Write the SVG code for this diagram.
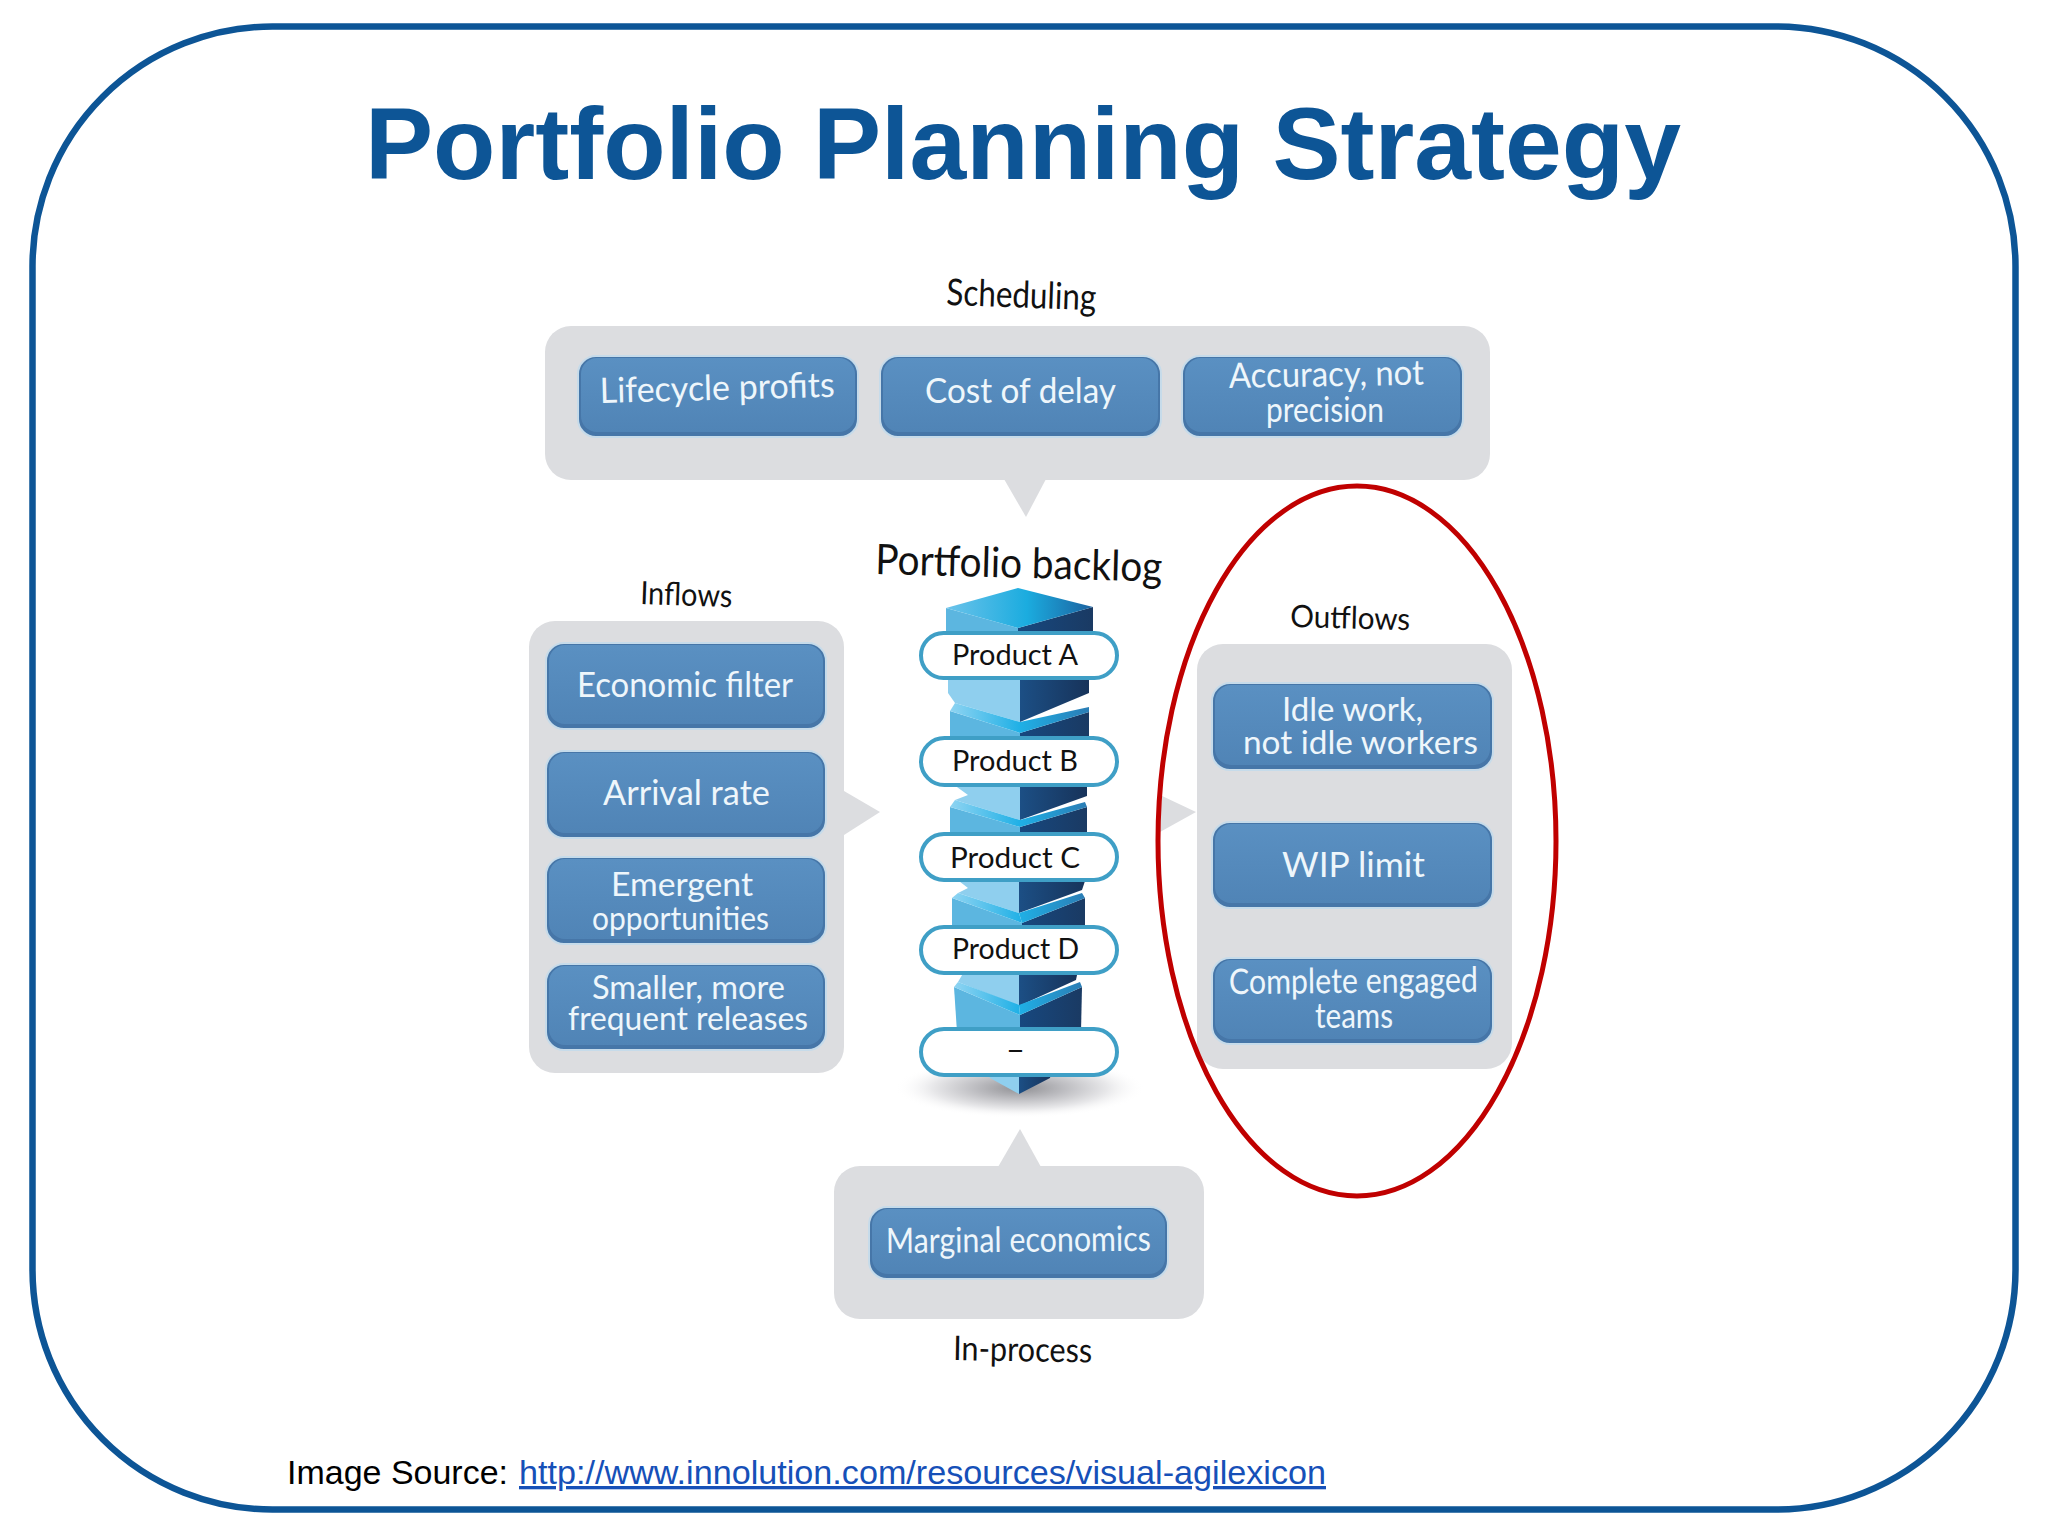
<svg xmlns="http://www.w3.org/2000/svg" width="2048" height="1536" viewBox="0 0 2048 1536">
<style>
.frame{fill:#fff;stroke:#0d5596;stroke-width:6.5}
.title{font-family:"Liberation Sans",Arial,sans-serif;font-weight:700;font-size:102px;fill:#0d5596}
.src{font-family:"Liberation Sans",Arial,sans-serif;font-size:33px;fill:#000}
.link{fill:#1650b8}
.panel{fill:#dcdde0}
.btnh{fill:#4676a8;stroke:#c6dbea;stroke-width:2}
.btn{fill:url(#btnG)}
.t{font-family:Lato,"Open Sans",sans-serif;font-size:35px;fill:#eef6fb}
.t2{font-size:32px}
.h{font-family:Lato,"Open Sans",sans-serif;font-size:34px;fill:#111}
.pt{font-family:Lato,"Open Sans",sans-serif;font-size:28px;fill:#111}
.pill{fill:#fff;stroke:#3f9fc6;stroke-width:4}
.lf{fill:#5cb6e0}
.rf{fill:url(#darkG)}
.ll{fill:#8fcfee}
.rl{fill:url(#darkL)}
.ca{fill:url(#armL)}
.cb{fill:url(#armR)}
.ring{fill:none;stroke:#c00000;stroke-width:5}
</style>
<defs>
<linearGradient id="btnG" x1="0" y1="0" x2="0" y2="1"><stop offset="0" stop-color="#5a90c2"/><stop offset="1" stop-color="#5084b6"/></linearGradient>
<linearGradient id="darkG" x1="0" y1="0" x2="1" y2="0"><stop offset="0" stop-color="#17487f"/><stop offset="1" stop-color="#1a3a63"/></linearGradient>
<linearGradient id="darkL" x1="0" y1="0" x2="1" y2="0"><stop offset="0" stop-color="#1c4f85"/><stop offset="1" stop-color="#17335a"/></linearGradient>
<linearGradient id="armL" x1="0" y1="0" x2="1" y2="0"><stop offset="0" stop-color="#8fd4f2"/><stop offset="1" stop-color="#1fb0e6"/></linearGradient>
<linearGradient id="armR" x1="0" y1="0" x2="1" y2="0"><stop offset="0" stop-color="#1fb0e6"/><stop offset="1" stop-color="#2b7db5"/></linearGradient>
<linearGradient id="topG" x1="0" y1="0" x2="1" y2="0"><stop offset="0" stop-color="#6cc3ea"/><stop offset="0.55" stop-color="#1bacdf"/><stop offset="1" stop-color="#1c62a0"/></linearGradient>
<radialGradient id="shadowG"><stop offset="0" stop-color="#909094"/><stop offset="0.35" stop-color="#bcbcc0"/><stop offset="0.7" stop-color="#e8e8ea"/><stop offset="1" stop-color="#fff" stop-opacity="0"/></radialGradient>
</defs>

<rect width="2048" height="1536" fill="#fff"/>
<rect id="frame" class="frame" x="32.5" y="26.5" width="1983" height="1483" rx="240" ry="240"/>
<text id="title" class="title" x="365" y="179" textLength="1316" lengthAdjust="spacingAndGlyphs">Portfolio Planning Strategy</text>

<g id="scheduling">
<rect class="panel" x="545" y="326" width="945" height="154" rx="26"/>
<text class="h" x="946" y="305" textLength="150" lengthAdjust="spacingAndGlyphs" transform="rotate(2 946 305)" style="font-size:37px">Scheduling</text>
<g id="lifecycle"><rect class="btnh" x="578" y="356" width="280" height="81" rx="18"/><rect class="btn" x="581" y="358" width="274" height="74" rx="16"/>
<text class="t" x="600" y="403" textLength="235" lengthAdjust="spacingAndGlyphs" transform="rotate(-1.5 600 403)">Lifecycle profits</text></g>
<g id="cost"><rect class="btnh" x="880" y="356" width="281" height="81" rx="18"/><rect class="btn" x="883" y="358" width="275" height="74" rx="16"/>
<text class="t" x="925" y="403" textLength="191" lengthAdjust="spacingAndGlyphs">Cost of delay</text></g>
<g id="accuracy"><rect class="btnh" x="1182" y="356" width="281" height="81" rx="18"/><rect class="btn" x="1185" y="358" width="275" height="74" rx="16"/>
<text class="t" x="1229" y="388" textLength="195" lengthAdjust="spacingAndGlyphs" transform="rotate(-1 1229 388)">Accuracy, not</text>
<text class="t" x="1266" y="422" textLength="118" lengthAdjust="spacingAndGlyphs">precision</text></g>
</g>

<g id="inflows">
<rect class="panel" x="529" y="621" width="315" height="452" rx="26"/>
<text class="h" x="640" y="604" textLength="92" lengthAdjust="spacingAndGlyphs" style="font-size:32px" transform="rotate(2 640 604)">Inflows</text>
<g id="economic"><rect class="btnh" x="546" y="643" width="280" height="86" rx="18"/><rect class="btn" x="549" y="645" width="274" height="79" rx="16"/>
<text class="t" x="577" y="697" textLength="216" lengthAdjust="spacingAndGlyphs">Economic filter</text></g>
<g id="arrival"><rect class="btnh" x="546" y="751" width="280" height="87" rx="18"/><rect class="btn" x="549" y="753" width="274" height="80" rx="16"/>
<text class="t" x="603" y="805" textLength="167" lengthAdjust="spacingAndGlyphs">Arrival rate</text></g>
<g id="emergent"><rect class="btnh" x="546" y="857" width="280" height="87" rx="18"/><rect class="btn" x="549" y="859" width="274" height="80" rx="16"/>
<text class="t t2" x="611" y="896" textLength="142" lengthAdjust="spacingAndGlyphs">Emergent</text>
<text class="t t2" x="592" y="930" textLength="177" lengthAdjust="spacingAndGlyphs">opportunities</text></g>
<g id="smaller"><rect class="btnh" x="546" y="964" width="280" height="86" rx="18"/><rect class="btn" x="549" y="966" width="274" height="79" rx="16"/>
<text class="t t2" x="592" y="999" textLength="193" lengthAdjust="spacingAndGlyphs">Smaller, more</text>
<text class="t t2" x="568" y="1030" textLength="240" lengthAdjust="spacingAndGlyphs">frequent releases</text></g>
</g>

<g id="backlog">
<ellipse cx="1020" cy="1088" rx="125" ry="30" fill="url(#shadowG)"/>
<polygon class="rl" points="1019,1070 1052,1070 1050,1078 1019,1094"/>
<polygon class="ll" points="985,1070 1019,1070 1019,1094 990,1078"/>
<!-- block 5 -->
<polygon class="lf" points="954,987 1020,1015 1020,1032 957,1032"/>
<polygon class="rf" points="1020,1015 1082,987 1081,1032 1020,1032"/>
<polygon class="ll" points="965,970 1019,970 1019,1006 958,982"/>
<polygon class="rl" points="1019,970 1078,970 1076,980 1019,1006"/>
<polygon class="ca" points="958,982 1019,1005 1020,1015 954,987"/>
<polygon class="cb" points="1019,1005 1080,982 1082,987 1020,1015"/>
<!-- block 4 -->
<polygon class="lf" points="952,898 1022,923 1022,932 952,932"/>
<polygon class="rf" points="1022,923 1085,898 1085,932 1022,932"/>
<polygon class="ll" points="955,878 1019,878 1019,913 958,893 968,888"/>
<polygon class="rl" points="1019,878 1086,878 1082,890 1019,913"/>
<polygon class="ca" points="958,893 1019,913 1022,923 952,898"/>
<polygon class="cb" points="1019,913 1082,893 1085,898 1022,923"/>
<!-- block 3 -->
<polygon class="lf" points="950,807 1020,827 1020,838 950,838"/>
<polygon class="rf" points="1020,827 1087,807 1087,838 1020,838"/>
<polygon class="ll" points="950,782 1020,782 1020,820 955,800 968,795"/>
<polygon class="rl" points="1020,782 1087,782 1087,796 1020,820"/>
<polygon class="ca" points="955,800 1020,820 1020,827 950,807"/>
<polygon class="cb" points="1020,820 1085,802 1087,807 1020,827"/>
<!-- block 2 -->
<polygon class="lf" points="950,711 1020,733 1020,742 950,742"/>
<polygon class="rf" points="1020,733 1089,712 1089,742 1020,742"/>
<polygon class="ll" points="948,675 1020,675 1020,722 955,703 948,693"/>
<polygon class="rl" points="1020,675 1089,675 1089,693 1020,722"/>
<polygon class="ca" points="955,703 1020,722 1020,733 950,711"/>
<polygon class="cb" points="1020,722 1089,707 1089,712 1020,733"/>
<!-- block 1 -->
<polygon class="lf" points="946,608 1018,628 1018,640 946,640"/>
<polygon class="rf" points="1018,628 1093,607 1093,640 1018,640"/>
<polygon fill="url(#topG)" points="946,608 1018,588 1093,607 1018,628"/>
<g id="productA"><rect class="pill" x="921" y="633" width="196" height="45" rx="22.5"/><text class="pt" x="952" y="665" textLength="126" lengthAdjust="spacingAndGlyphs">Product A</text></g>
<g id="productB"><rect class="pill" x="921" y="738" width="196" height="47" rx="23.5"/><text class="pt" x="952" y="771" textLength="126" lengthAdjust="spacingAndGlyphs">Product B</text></g>
<g id="productC"><rect class="pill" x="921" y="834" width="196" height="46" rx="23"/><text class="pt" x="950" y="868" textLength="130" lengthAdjust="spacingAndGlyphs">Product C</text></g>
<g id="productD"><rect class="pill" x="921" y="927" width="196" height="46" rx="23"/><text class="pt" x="952" y="959" textLength="127" lengthAdjust="spacingAndGlyphs">Product D</text></g>
<g id="productE"><rect class="pill" x="921" y="1029" width="196" height="46" rx="23"/><text class="pt" x="1006" y="1060" textLength="19" lengthAdjust="spacingAndGlyphs">–</text></g>
<text class="h" x="875" y="574" textLength="287" lengthAdjust="spacingAndGlyphs" style="font-size:42px" transform="rotate(1.5 875 574)">Portfolio backlog</text>
</g>

<g id="outflows">
<rect class="panel" x="1197" y="644" width="315" height="425" rx="26"/>
<text class="h" x="1290" y="627" textLength="120" lengthAdjust="spacingAndGlyphs" style="font-size:31px" transform="rotate(1.5 1290 627)">Outflows</text>
<g id="idle"><rect class="btnh" x="1212" y="683" width="281" height="87" rx="18"/><rect class="btn" x="1215" y="685" width="275" height="80" rx="16"/>
<text class="t t2" x="1282" y="721" textLength="141" lengthAdjust="spacingAndGlyphs">Idle work,</text>
<text class="t t2" x="1243" y="754" textLength="235" lengthAdjust="spacingAndGlyphs">not idle workers</text></g>
<g id="wip"><rect class="btnh" x="1212" y="822" width="281" height="86" rx="18"/><rect class="btn" x="1215" y="824" width="275" height="79" rx="16"/>
<text class="t" x="1282" y="877" textLength="143" lengthAdjust="spacingAndGlyphs">WIP limit</text></g>
<g id="complete"><rect class="btnh" x="1212" y="958" width="281" height="86" rx="18"/><rect class="btn" x="1215" y="960" width="275" height="79" rx="16"/>
<text class="t" x="1229" y="994" textLength="249" lengthAdjust="spacingAndGlyphs" transform="rotate(-0.5 1229 994)">Complete engaged</text>
<text class="t" x="1315" y="1028" textLength="78" lengthAdjust="spacingAndGlyphs">teams</text></g>
</g>

<g id="inprocess">
<rect class="panel" x="834" y="1166" width="370" height="153" rx="26"/>
<g id="marginal"><rect class="btnh" x="869" y="1207" width="299" height="72" rx="18"/><rect class="btn" x="872" y="1209" width="293" height="65" rx="16"/>
<text class="t" x="886" y="1253" textLength="265" lengthAdjust="spacingAndGlyphs" transform="rotate(-0.5 886 1253)">Marginal economics</text></g>
<text class="h" x="953" y="1360" textLength="139" lengthAdjust="spacingAndGlyphs" transform="rotate(1 953 1360)">In-process</text>
</g>

<g id="connectors">
<polygon class="panel" points="1004,479 1046,479 1026,517"/>
<polygon class="panel" points="844,791 880,812 844,835"/>
<polygon class="panel" points="1160,795 1196,812 1160,832"/>
<polygon class="panel" points="998,1167 1041,1167 1020,1129"/>
</g>

<ellipse id="highlight" class="ring" cx="1357" cy="841" rx="199" ry="355"/>

<g id="source">
<text class="src" x="287" y="1484" textLength="221" lengthAdjust="spacingAndGlyphs">Image Source:</text>
<text class="src link" x="519" y="1484" textLength="807" lengthAdjust="spacingAndGlyphs" text-decoration="underline">http://www.innolution.com/resources/visual-agilexicon</text>
</g>
</svg>
